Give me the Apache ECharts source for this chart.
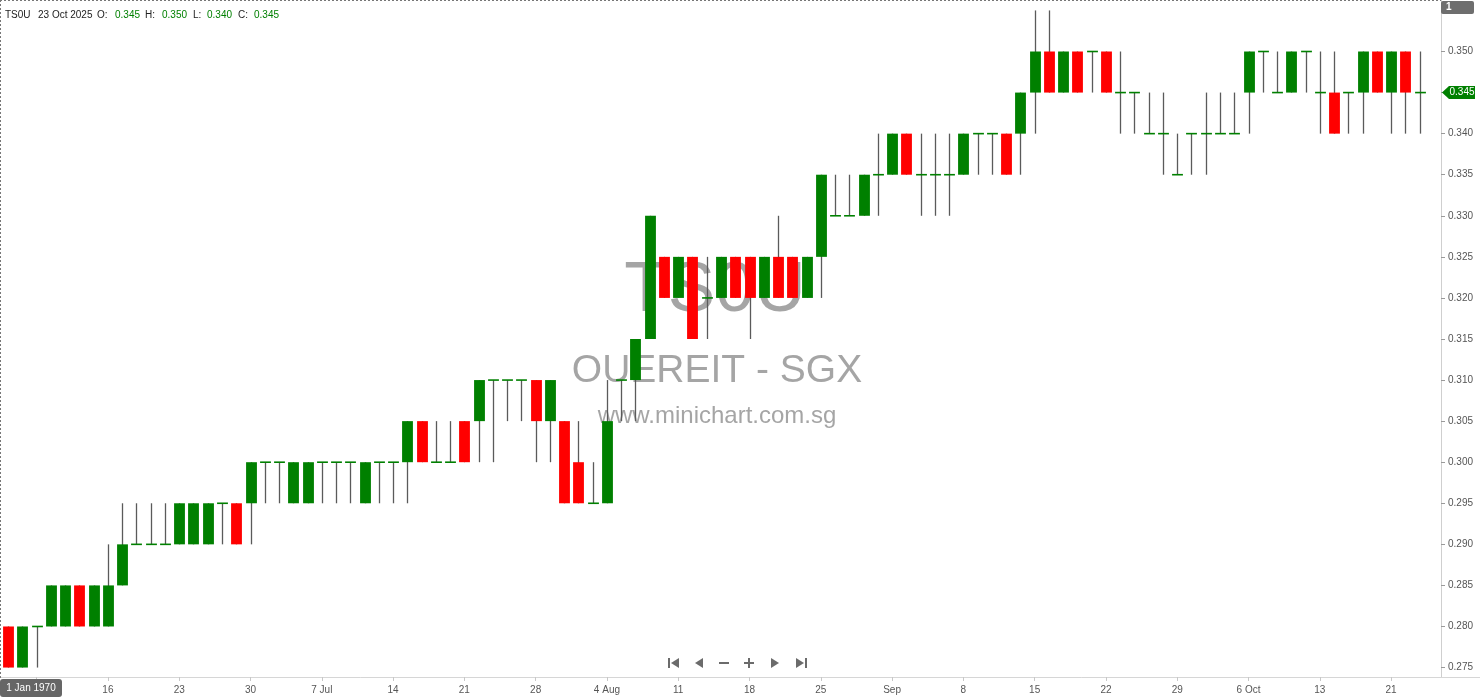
<!DOCTYPE html>
<html><head><meta charset="utf-8">
<script src="https://cdn.jsdelivr.net/npm/echarts@6/dist/echarts.min.js"></script>
<style>html,body{margin:0;padding:0;background:#fff}#c{width:1480px;height:699px}</style>
</head><body><div id="c"></div>
<script>
const symbolCode = 'TS0U';
const symbolName = 'OUEREIT - SGX';
const siteName = 'www.minichart.com.sg';
const headerDate = '23 Oct 2025';

const categories = [
 '2025-06-05','2025-06-06','2025-06-09','2025-06-10','2025-06-11','2025-06-12','2025-06-13','2025-06-16','2025-06-17','2025-06-18',
 '2025-06-19','2025-06-20','2025-06-23','2025-06-24','2025-06-25','2025-06-26','2025-06-27','2025-06-30','2025-07-01','2025-07-02',
 '2025-07-03','2025-07-04','2025-07-07','2025-07-08','2025-07-09','2025-07-10','2025-07-11','2025-07-14','2025-07-15','2025-07-16',
 '2025-07-17','2025-07-18','2025-07-21','2025-07-22','2025-07-23','2025-07-24','2025-07-25','2025-07-28','2025-07-29','2025-07-30',
 '2025-07-31','2025-08-01','2025-08-04','2025-08-05','2025-08-06','2025-08-07','2025-08-08','2025-08-11','2025-08-12','2025-08-13',
 '2025-08-14','2025-08-15','2025-08-18','2025-08-19','2025-08-20','2025-08-21','2025-08-22','2025-08-25','2025-08-26','2025-08-27',
 '2025-08-28','2025-08-29','2025-09-01','2025-09-02','2025-09-03','2025-09-04','2025-09-05','2025-09-08','2025-09-09','2025-09-10',
 '2025-09-11','2025-09-12','2025-09-15','2025-09-16','2025-09-17','2025-09-18','2025-09-19','2025-09-22','2025-09-23','2025-09-24',
 '2025-09-25','2025-09-26','2025-09-29','2025-09-30','2025-10-01','2025-10-02','2025-10-03','2025-10-06','2025-10-07','2025-10-08',
 '2025-10-09','2025-10-10','2025-10-13','2025-10-14','2025-10-15','2025-10-16','2025-10-17','2025-10-21','2025-10-22','2025-10-23'
];

const opens = [
 0.280,0.275,0.280,0.280,0.280,0.285,0.280,0.280,0.285,0.290,
 0.290,0.290,0.290,0.290,0.290,0.295,0.295,0.295,0.300,0.300,
 0.295,0.295,0.300,0.300,0.300,0.295,0.300,0.300,0.300,0.305,
 0.300,0.300,0.305,0.305,0.310,0.310,0.310,0.310,0.305,0.305,
 0.300,0.295,0.295,0.310,0.310,0.315,0.325,0.320,0.325,0.320,
 0.320,0.325,0.325,0.320,0.325,0.325,0.320,0.325,0.330,0.330,
 0.330,0.335,0.335,0.340,0.335,0.335,0.335,0.335,0.340,0.340,
 0.340,0.340,0.345,0.350,0.345,0.350,0.350,0.350,0.345,0.345,
 0.340,0.340,0.335,0.340,0.340,0.340,0.340,0.345,0.350,0.345,
 0.345,0.350,0.345,0.345,0.345,0.345,0.350,0.345,0.350,0.345
];
const highs = [
 0.280,0.280,0.280,0.285,0.285,0.285,0.285,0.290,0.295,0.295,
 0.295,0.295,0.295,0.295,0.295,0.295,0.295,0.300,0.300,0.300,
 0.300,0.300,0.300,0.300,0.300,0.300,0.300,0.300,0.305,0.305,
 0.305,0.305,0.305,0.310,0.310,0.310,0.310,0.310,0.310,0.305,
 0.305,0.300,0.310,0.310,0.315,0.330,0.325,0.325,0.325,0.325,
 0.325,0.325,0.325,0.325,0.330,0.325,0.325,0.335,0.335,0.335,
 0.335,0.340,0.340,0.340,0.340,0.340,0.340,0.340,0.340,0.340,
 0.340,0.345,0.355,0.355,0.350,0.350,0.350,0.350,0.350,0.345,
 0.345,0.345,0.340,0.340,0.345,0.345,0.345,0.350,0.350,0.350,
 0.350,0.350,0.350,0.350,0.345,0.350,0.350,0.350,0.350,0.350
];
const lows = [
 0.275,0.275,0.275,0.280,0.280,0.280,0.280,0.280,0.285,0.290,
 0.290,0.290,0.290,0.290,0.290,0.290,0.290,0.290,0.295,0.295,
 0.295,0.295,0.295,0.295,0.295,0.295,0.295,0.295,0.295,0.300,
 0.300,0.300,0.300,0.300,0.300,0.305,0.305,0.300,0.300,0.295,
 0.295,0.295,0.295,0.305,0.305,0.315,0.320,0.320,0.315,0.315,
 0.320,0.320,0.315,0.320,0.320,0.320,0.320,0.320,0.330,0.330,
 0.330,0.330,0.335,0.335,0.330,0.330,0.330,0.335,0.335,0.335,
 0.335,0.335,0.340,0.345,0.345,0.345,0.345,0.345,0.340,0.340,
 0.340,0.335,0.335,0.335,0.335,0.340,0.340,0.340,0.345,0.345,
 0.345,0.345,0.340,0.340,0.340,0.340,0.345,0.340,0.340,0.340
];
const closes = [
 0.275,0.280,0.280,0.285,0.285,0.280,0.285,0.285,0.290,0.290,
 0.290,0.290,0.295,0.295,0.295,0.295,0.290,0.300,0.300,0.300,
 0.300,0.300,0.300,0.300,0.300,0.300,0.300,0.300,0.305,0.300,
 0.300,0.300,0.300,0.310,0.310,0.310,0.310,0.305,0.310,0.295,
 0.295,0.295,0.305,0.310,0.315,0.330,0.320,0.325,0.315,0.320,
 0.325,0.320,0.320,0.325,0.320,0.320,0.325,0.335,0.330,0.330,
 0.335,0.335,0.340,0.335,0.335,0.335,0.335,0.340,0.340,0.340,
 0.335,0.345,0.350,0.345,0.350,0.345,0.350,0.345,0.345,0.345,
 0.340,0.340,0.335,0.340,0.340,0.340,0.340,0.350,0.350,0.345,
 0.350,0.350,0.345,0.340,0.345,0.350,0.345,0.350,0.345,0.345
];

const tickDates = ['2025-06-09','2025-06-16','2025-06-23','2025-06-30','2025-07-07','2025-07-14','2025-07-21','2025-07-28','2025-08-04','2025-08-11',
 '2025-08-18','2025-08-25','2025-09-01','2025-09-08','2025-09-15','2025-09-22','2025-09-29','2025-10-06','2025-10-13','2025-10-21'];
const tickTexts = ['9','16','23','30','7 Jul','14','21','28','4 Aug','11','18','25','Sep','8','15','22','29','6 Oct','13','21'];

const UP = '#008000', DOWN = '#ff0000', WICK = '#5a5a5a';
const FONT = 'Liberation Sans';

const tickMap = {};
tickDates.forEach((d, i) => { tickMap[d] = tickTexts[i]; });
const xCats = categories.concat(['']);
const seriesData = categories.map((d, i) => [i, opens[i], closes[i], lows[i], highs[i]]);

const chart = echarts.init(document.getElementById('c'), null, {renderer: 'canvas'});

function renderCandle(params, api) {
  const x = api.value(0), o = api.value(1), c = api.value(2), l = api.value(3), h = api.value(4);
  const pO = api.coord([x, o]), pC = api.coord([x, c]), pL = api.coord([x, l]), pH = api.coord([x, h]);
  const bw = api.size([1, 0])[0] * 0.76;
  const cx = Math.round(pO[0]) + 0.5;
  const kids = [];
  if (h !== l) {
    kids.push({type: 'line', shape: {x1: cx, y1: pH[1], x2: cx, y2: pL[1]}, style: {stroke: WICK, lineWidth: 1.3}});
  }
  if (o === c) {
    kids.push({type: 'line', shape: {x1: cx - bw / 2, y1: pO[1], x2: cx + bw / 2, y2: pO[1]}, style: {stroke: UP, lineWidth: 1.6}});
  } else {
    const top = Math.min(pO[1], pC[1]), bot = Math.max(pO[1], pC[1]);
    kids.push({type: 'rect', shape: {x: cx - bw / 2, y: top, width: bw, height: bot - top},
      style: {fill: c > o ? UP : DOWN, stroke: null}});
  }
  return {type: 'group', children: kids};
}

const option = {
  animation: false,
  backgroundColor: '#ffffff',
  grid: {left: 1, right: 39, top: 0, bottom: 22, containLabel: false},
  xAxis: {
    type: 'category',
    data: xCats,
    boundaryGap: true,
    axisLine: {show: true, lineStyle: {color: '#d6d6d6', width: 1}},
    axisTick: {show: true, alignWithLabel: true, length: 4, lineStyle: {color: '#c8c8c8'},
      interval: (idx, val) => tickMap[val] !== undefined},
    axisLabel: {show: true, color: '#555', fontSize: 10, fontFamily: FONT, margin: 8,
      interval: (idx, val) => tickMap[val] !== undefined,
      formatter: (val) => tickMap[val] || ''},
    splitLine: {show: false}
  },
  yAxis: {
    type: 'value',
    position: 'right',
    min: 0.27385,
    max: 0.35627,
    splitNumber: 16,
    scale: true,
    axisLine: {show: true, lineStyle: {color: '#cfcfcf'}},
    axisTick: {show: true, length: 4, lineStyle: {color: '#9a9a9a'}},
    axisLabel: {show: true, color: '#555', fontSize: 10, fontFamily: FONT, margin: 7,
      showMinLabel: false, showMaxLabel: false,
      formatter: (v) => v.toFixed(3)},
    splitLine: {show: false}
  },
  series: [{
    type: 'custom',
    name: symbolCode,
    renderItem: renderCandle,
    encode: {x: 0, y: [1, 2, 3, 4]},
    data: seriesData,
    z: 5
  }]
};
chart.setOption(option);

const last = categories.length - 1;
const lastY = chart.convertToPixel({yAxisIndex: 0}, closes[last]);
const fmt = (v) => v.toFixed(3);
const G = '#6b6b6b';

const header = [
  [5, symbolCode, '#222'], [38, headerDate, '#222'], [97, 'O:', '#222'], [115, fmt(opens[last]), UP],
  [145, 'H:', '#222'], [162, fmt(highs[last]), UP], [193, 'L:', '#222'], [207, fmt(lows[last]), UP],
  [238, 'C:', '#222'], [254, fmt(closes[last]), UP]
];

const graphics = [
  // watermark
  {type: 'text', z: 0, x: 715, y: 291, style: {text: symbolCode, fill: 'rgba(135,135,135,0.75)', font: '71px "Liberation Sans"', textAlign: 'center', textVerticalAlign: 'middle'}},
  {type: 'text', z: 0, x: 717, y: 371, style: {text: symbolName, fill: 'rgba(135,135,135,0.75)', font: '39px "Liberation Sans"', textAlign: 'center', textVerticalAlign: 'middle'}},
  {type: 'text', z: 0, x: 717, y: 416, style: {text: siteName, fill: 'rgba(135,135,135,0.75)', font: '24px "Liberation Sans"', textAlign: 'center', textVerticalAlign: 'middle'}},
  // crosshair dashed lines
  {type: 'line', z: 50, shape: {x1: 0, y1: 0.5, x2: 1441, y2: 0.5}, style: {stroke: '#777', lineWidth: 1, lineDash: [2, 2]}},
  {type: 'line', z: 50, shape: {x1: 0.5, y1: 0, x2: 0.5, y2: 679}, style: {stroke: '#777', lineWidth: 1, lineDash: [2, 2]}},
  // extend x axis line under the price scale
  {type: 'line', z: 1, shape: {x1: 1441, y1: 677.5, x2: 1480, y2: 677.5}, style: {stroke: '#d6d6d6', lineWidth: 1}},
  // top-right value box
  {type: 'rect', z: 60, shape: {x: 1441, y: 1, width: 33, height: 13, r: 2}, style: {fill: '#6e6e6e'}},
  {type: 'text', z: 61, x: 1446, y: 7.5, style: {text: '1', fill: '#fff', font: 'bold 10px "Liberation Sans"', textVerticalAlign: 'middle'}},
  // bottom-left date box
  {type: 'rect', z: 60, shape: {x: 0, y: 679, width: 62, height: 18, r: 3}, style: {fill: '#666'}},
  {type: 'text', z: 61, x: 31, y: 688, style: {text: '1 Jan 1970', fill: '#fff', font: '10px "Liberation Sans"', textAlign: 'center', textVerticalAlign: 'middle'}},
  // last price tag
  {type: 'polygon', z: 60, shape: {points: [[1442, lastY], [1449, lastY - 6.5], [1475, lastY - 6.5], [1475, lastY + 6.5], [1449, lastY + 6.5]]}, style: {fill: UP}},
  {type: 'text', z: 61, x: 1462, y: lastY, style: {text: fmt(closes[last]), fill: '#fff', font: '10px "Liberation Sans"', textAlign: 'center', textVerticalAlign: 'middle'}},
  // navigation buttons
  {type: 'rect', z: 60, shape: {x: 668, y: 658, width: 2, height: 10}, style: {fill: G}},
  {type: 'polygon', z: 60, shape: {points: [[671, 663], [679, 658], [679, 668]]}, style: {fill: G}},
  {type: 'polygon', z: 60, shape: {points: [[695, 663], [703, 658], [703, 668]]}, style: {fill: G}},
  {type: 'rect', z: 60, shape: {x: 719, y: 662, width: 10, height: 2}, style: {fill: G}},
  {type: 'rect', z: 60, shape: {x: 744, y: 662, width: 10, height: 2}, style: {fill: G}},
  {type: 'rect', z: 60, shape: {x: 748, y: 658, width: 2, height: 10}, style: {fill: G}},
  {type: 'polygon', z: 60, shape: {points: [[771, 658], [779, 663], [771, 668]]}, style: {fill: G}},
  {type: 'polygon', z: 60, shape: {points: [[796, 658], [804, 663], [796, 668]]}, style: {fill: G}},
  {type: 'rect', z: 60, shape: {x: 805, y: 658, width: 2, height: 10}, style: {fill: G}}
];
header.forEach(([x, t, col]) => {
  graphics.push({type: 'text', z: 61, x: x, y: 15.5, style: {text: t, fill: col, font: '10px "Liberation Sans"', textVerticalAlign: 'middle'}});
});
chart.setOption({graphic: graphics});
</script></body></html>
